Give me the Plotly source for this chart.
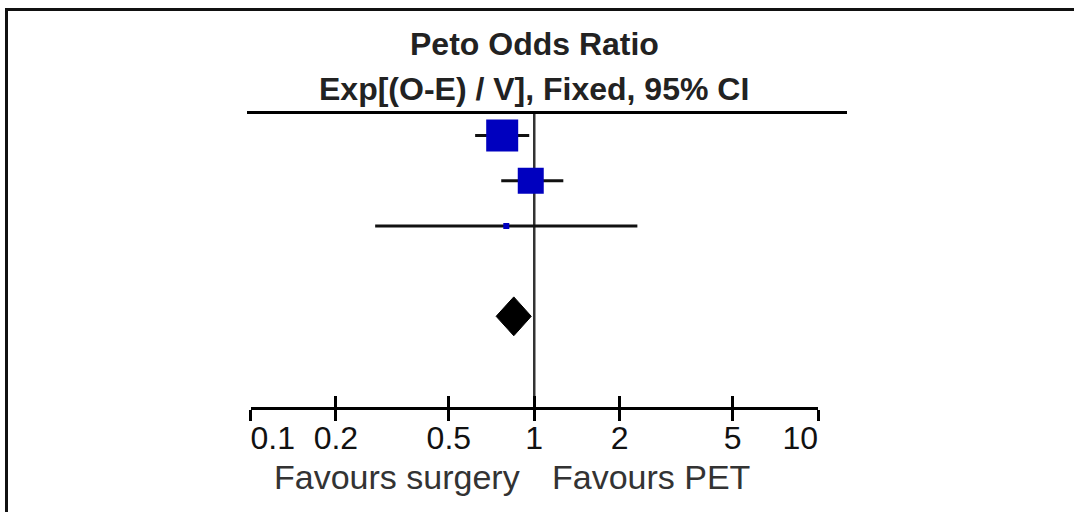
import math
import plotly.graph_objects as go

# ---------------- data ----------------
studies = ["Study 1", "Study 2", "Study 3"]
or_est = [0.771, 0.972, 0.797]
ci_low = [0.619, 0.765, 0.275]
ci_high = [0.960, 1.266, 2.309]
total_est = 0.847
total_low = 0.734
total_high = 0.976
null_value = 1
tick_values = [0.1, 0.2, 0.5, 1, 2, 5, 10]
tick_labels = ["0.1", "0.2", "0.5", "1", "2", "5", "10"]
title_lines = ["Peto Odds Ratio", "Exp[(O-E) / V], Fixed, 95% CI"]
favours_left = "Favours surgery"
favours_right = "Favours PET"

# ---------------- style / layout ----------------
study_rows = [0, 1, 2]
total_row = 4
square_sizes = [32, 26, 6]
diamond_half = 0.43
W, H = 1074, 512
FONT = "Liberation Sans, Arial, sans-serif"
BLUE = "#0000BF"
x_dom = [250.5 / W, 818 / W]
y_dom = [1 - 407 / H, 1 - 112 / H]
y_range = [6.006, -0.52]
xr = [math.log10(tick_values[0]), math.log10(tick_values[-1])]

fig = go.Figure()

# line of no effect
fig.add_trace(go.Scatter(x=[null_value, null_value], y=y_range, mode="lines",
                         line=dict(color="#333333", width=2.5),
                         hoverinfo="skip", showlegend=False, cliponaxis=False))

# confidence interval lines
for r, lo, hi in zip(study_rows, ci_low, ci_high):
    fig.add_trace(go.Scatter(x=[lo, hi], y=[r, r], mode="lines",
                             line=dict(color="#111111", width=3),
                             hoverinfo="skip", showlegend=False))

# study squares
fig.add_trace(go.Scatter(x=or_est, y=study_rows, mode="markers",
                         marker=dict(symbol="square", size=square_sizes, color=BLUE,
                                     opacity=1, line=dict(width=0)),
                         text=studies, showlegend=False))

# pooled diamond
fig.add_trace(go.Scatter(
    x=[total_low, total_est, total_high, total_est, total_low],
    y=[total_row, total_row - diamond_half, total_row, total_row + diamond_half, total_row],
    mode="lines", fill="toself", fillcolor="black",
    line=dict(color="black", width=1), hoverinfo="skip", showlegend=False))

# invisible helper traces so overlay axes are drawn
for ax in ["x2", "x3", "x4"]:
    fig.add_trace(go.Scatter(x=tick_values, y=[study_rows[0]] * len(tick_values),
                             xaxis=ax, yaxis="y", mode="markers",
                             marker=dict(opacity=0, size=1),
                             hoverinfo="skip", showlegend=False))

main_text = [""] + tick_labels[1:-1] + [""]
tickfont = dict(family=FONT, size=32, color="#111111")

fig.update_layout(
    width=W, height=H,
    margin=dict(l=0, r=0, t=0, b=0),
    paper_bgcolor="white", plot_bgcolor="white",
    showlegend=False,
    xaxis=dict(type="log", range=xr, domain=x_dom, anchor="y",
               showline=True, linecolor="black", linewidth=3,
               ticks="outside", ticklen=11, tickwidth=3, tickcolor="black",
               tickmode="array", tickvals=tick_values, ticktext=main_text,
               ticklabelstandoff=-10,
               tickfont=tickfont, showgrid=False, zeroline=False, fixedrange=True),
    xaxis2=dict(type="log", range=xr, overlaying="x", anchor="y", side="bottom",
                showline=False, ticks="inside", ticklen=11, tickwidth=3,
                tickcolor="black", tickmode="array", tickvals=tick_values,
                showticklabels=False, showgrid=False, zeroline=False, fixedrange=True),
    xaxis3=dict(type="log", range=xr, overlaying="x", anchor="y", side="bottom",
                showline=False, ticks="", tickmode="array", tickvals=[tick_values[0]],
                ticktext=[tick_labels[0]], ticklabelposition="outside right",
                ticklabelstandoff=9,
                tickfont=tickfont, showgrid=False, zeroline=False, fixedrange=True),
    xaxis4=dict(type="log", range=xr, overlaying="x", anchor="y", side="bottom",
                showline=False, ticks="", tickmode="array", tickvals=[tick_values[-1]],
                ticktext=[tick_labels[-1]], ticklabelposition="outside left",
                ticklabelstandoff=9,
                tickfont=tickfont, showgrid=False, zeroline=False, fixedrange=True),
    yaxis=dict(range=y_range, domain=y_dom, visible=False, fixedrange=True),
)

# title lines
fig.add_annotation(text="<b>%s</b>" % title_lines[0], xref="x", x=0, yref="paper",
                   y=1 - 43.5 / H, xanchor="center", yanchor="middle", showarrow=False,
                   font=dict(family=FONT, size=32, color="#222222"))
fig.add_annotation(text="<b>%s</b>" % title_lines[1], xref="x", x=0, yref="paper",
                   y=1 - 88.5 / H, xanchor="center", yanchor="middle", showarrow=False,
                   font=dict(family=FONT, size=32, color="#222222"))

# favours labels
fig.add_annotation(text=favours_left, xref="x", x=0, yref="paper", y=1 - 477 / H,
                   xanchor="right", yanchor="middle", xshift=-12, showarrow=False,
                   font=dict(family=FONT, size=34, color="#333333"))
fig.add_annotation(text=favours_right, xref="x", x=0, yref="paper", y=1 - 477 / H,
                   xanchor="left", yanchor="middle", xshift=16, showarrow=False,
                   font=dict(family=FONT, size=34, color="#333333"))

# top rule
fig.add_shape(type="line", xref="paper", yref="paper", x0=247 / W, x1=847 / W,
              y0=1 - 112.5 / H, y1=1 - 112.5 / H, line=dict(color="black", width=3))
# frame (top and left edges)
fig.add_shape(type="path", xref="paper", yref="paper",
              path="M %f,0 L %f,%f L 1,%f" % (6.5 / W, 6.5 / W, 1 - 9.5 / H, 1 - 9.5 / H),
              line=dict(color="#111111", width=3))

fig.write_html("out.html", config={"displayModeBar": False},
               post_script="document.body.style.margin='0';document.body.style.overflow='hidden';")
